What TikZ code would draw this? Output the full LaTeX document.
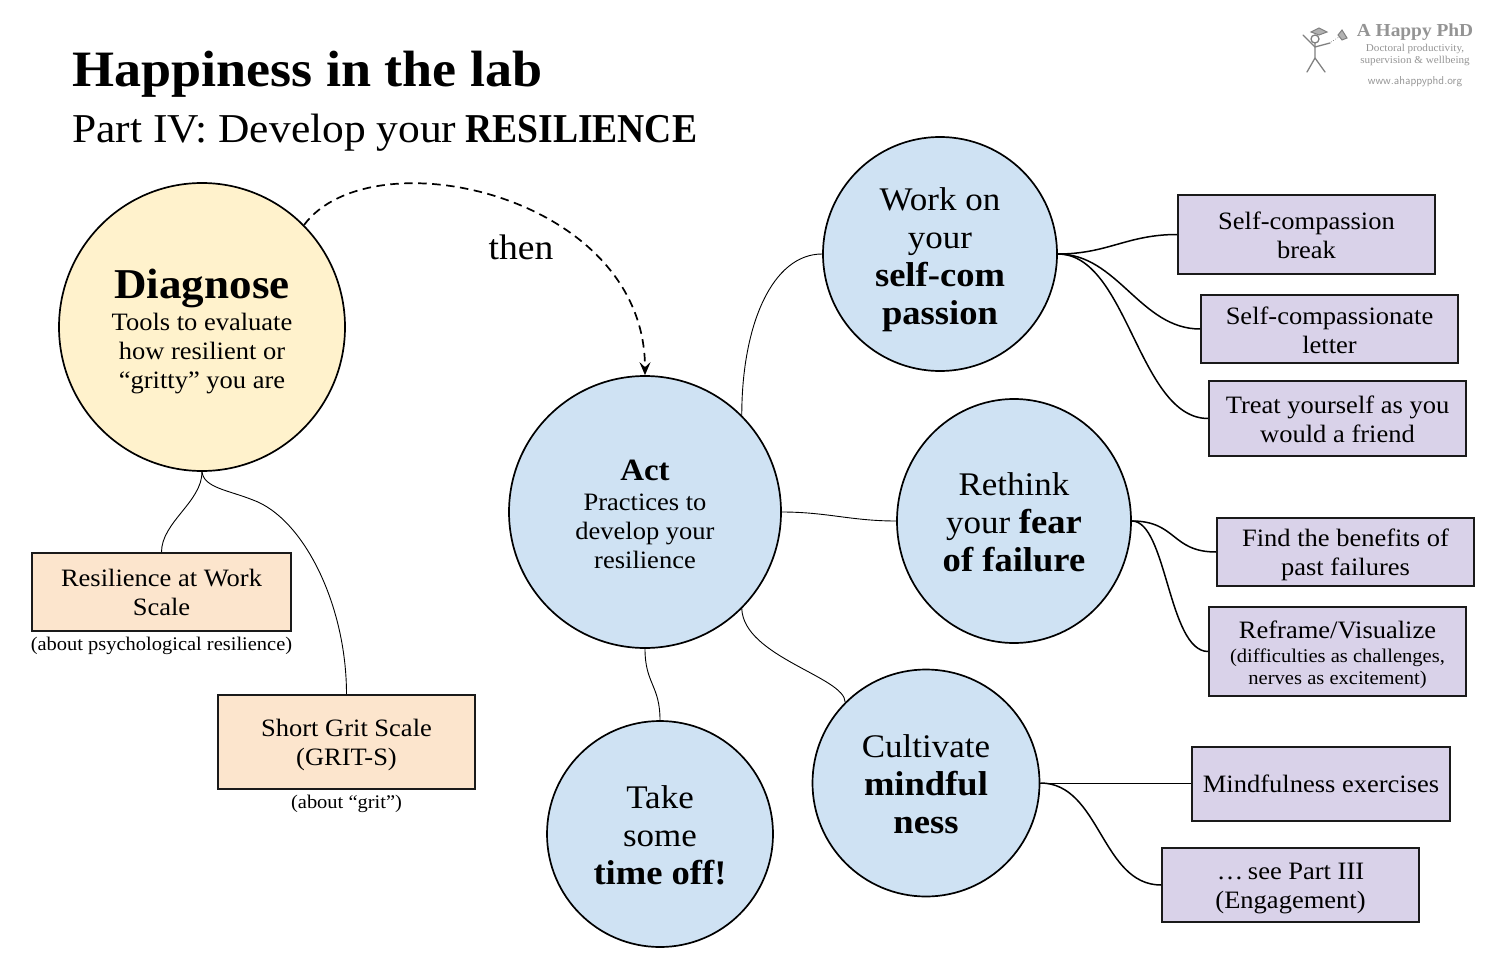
\documentclass[tikz,border=0pt]{standalone}
\usepackage{fontspec}
\setmainfont[FakeStretch=1.06]{Liberation Serif}
\usetikzlibrary{arrows.meta,shapes.geometric}
\definecolor{cyel}{HTML}{FFF2CC}
\definecolor{cblu}{HTML}{CFE2F3}
\definecolor{cora}{HTML}{FCE5CD}
\definecolor{cpur}{HTML}{D9D2E9}
\definecolor{ink}{HTML}{1A1A1A}
\tikzset{
 ball/.style={ellipse,draw=black,line width=1.7pt,inner sep=0pt},
 yball/.style={ball,fill=cyel,font=\fontsize{25}{29}\selectfont},
 aball/.style={ball,fill=cblu,font=\fontsize{25}{29}\selectfont},
 bball/.style={ball,fill=cblu,font=\fontsize{33}{38}\selectfont},
 tbox/.style={rectangle,draw=ink,line width=1.7pt,inner sep=0pt,font=\fontsize{25}{29}\selectfont},
 obox/.style={tbox,fill=cora},
 pbox/.style={tbox,fill=cpur},
 link/.style={draw=black,line width=0.9pt},
 heavy link/.style={draw=black,line width=1.5pt},
 note/.style={inner sep=0pt,font=\fontsize{19.3}{24}\selectfont},
 logoline/.style={draw=black!50,line width=1.3pt,line cap=round},
 logotext/.style={inner sep=0pt,text=black!42},
}
\newcommand{\tx}[2]{\raisebox{#1pt}[0pt][0pt]{\begin{tabular}[c]{@{}c@{}}#2\end{tabular}}}
\newcommand{\bb}[1]{{\fontsize{34.5}{38}\selectfont\bfseries #1}}
\newcommand{\bx}[6]{\node[#1,minimum width=#5-#3,minimum height=#6-#4] (#2) at ({(#3+#5)/2},{(#4+#6)/2})}
\begin{document}
\begin{tikzpicture}[x=1pt,y=-1pt]
\useasboundingbox (0,0) rectangle (1501,960);
\node[anchor=base west,inner sep=0pt,font=\fontsize{51}{51}\selectfont\bfseries] (title) at (72,87) {Happiness in the lab};
\node[anchor=base west,inner sep=0pt,font=\fontsize{41}{41}\selectfont] (sub) at (72,143) {Part IV: Develop your\kern-2pt\ \scalebox{0.865}[1]{\textbf{RESILIENCE}}};

\node[yball,minimum width=286pt,minimum height=288pt] (diag) at (202,327) {\tx{-12}{{\fontsize{42.5}{44}\selectfont\textbf{Diagnose}}\\[3pt]Tools to evaluate\\how resilient or\\“gritty” you are}};
\node[aball,minimum width=272pt,minimum height=272pt] (act) at (645,512) {\tx{-13}{{\fontsize{31}{36}\selectfont\textbf{Act}}\\[1pt]Practices to\\develop your\\resilience}};
\node[bball,minimum width=234pt,minimum height=234pt] (work) at (940,254) {\tx{-12}{Work on\\your\\\bb{self-com}\\\bb{passion}}};
\node[bball,minimum width=234pt,minimum height=244pt] (rethink) at (1014,521) {\tx{-11}{Rethink\\your \bb{fear}\\\bb{of failure}}};
\node[bball,minimum width=227pt,minimum height=227pt] (mind) at (926,783) {\tx{-11}{Cultivate\\\bb{mindful}\\\bb{ness}}};
\node[bball,minimum width=226pt,minimum height=226pt] (off) at (660,834) {\tx{-11}{Take\\some\\\bb{time off!}}};

\bx{obox}{rw}{32}{553}{291}{631} {\tx{-9}{Resilience at Work\\Scale}};
\bx{obox}{gs}{218}{695}{475}{789} {\tx{-9}{Short Grit Scale\\(GRIT-S)}};
\bx{pbox}{sb}{1178}{195}{1435}{274} {\tx{-10}{Self-compassion\\break}};
\bx{pbox}{sl}{1201}{295}{1458}{363} {\tx{-10}{Self-compassionate\\letter}};
\bx{pbox}{tf}{1209}{381}{1466}{456} {\tx{-10}{Treat yourself as you\\would a friend}};
\bx{pbox}{fb}{1217}{518}{1474}{586} {\tx{-9}{Find the benefits of\\past failures}};
\bx{pbox}{rv}{1209}{607}{1466}{696} {\tx{-10.5}{Reframe/Visualize\\[-5pt]\fontsize{19.4}{22}\selectfont(difficulties as challenges,\\[-7pt]\fontsize{19.4}{22}\selectfont nerves as excitement)}};
\bx{pbox}{me}{1192}{747}{1450}{821} {\tx{-9}{Mindfulness exercises}};
\bx{pbox}{pt}{1162}{848}{1419}{922} {\tx{-9}{\dots\kern-2pt\ see Part III\\(Engagement)}};

\node[note] (n1) at (161.5,646) {(about psychological resilience)};
\node[note] (n2) at (346.5,804) {(about “grit”)};
\node[inner sep=0pt,font=\fontsize{35.5}{36}\selectfont] (then) at (521,247) {then};

\coordinate (gsbend) at (253,500);
\draw[link] (diag.south) .. controls +(0,30) and +(0,-30) .. (rw.north);
\draw[link] (diag.south) .. controls +(2,16) and +(-25,-10) .. (gsbend) .. controls +(50,18) and +(0,-90) .. (gs.north);
\draw[link] (act.45) .. controls +(0,-90) and +(-50,0) .. (work.west);
\draw[link] (act.east) .. controls +(45,0) and +(-45,0) .. (rethink.west);
\draw[link] (act.-45) .. controls +(2,48) and +(0,-25) .. (mind.135);
\draw[link] (act.south) .. controls +(0,35) and +(0,-35) .. (off.north);
\draw[line width=1.7pt,dash pattern=on 8.5pt off 5.5pt,-{Stealth[length=13pt,width=11pt,inset=5pt]}] (diag.45) .. controls +(67,-90) and +(0,-181) .. (act.north);

\draw[heavy link] (work.east) .. controls +(50,0) and +(-50,0) .. (sb.west);
\draw[heavy link] (work.east) .. controls +(60,0) and +(-60,0) .. (sl.west);
\draw[heavy link] (work.east) .. controls +(70,0) and +(-70,0) .. (tf.west);
\draw[heavy link] (rethink.east) .. controls +(45,0) and +(-45,0) .. (fb.west);
\draw[heavy link] (rethink.east) .. controls +(35,0) and +(-40,0) .. (rv.west);
\draw[link] (mind.east) -- (mind.east -| me.west);
\draw[heavy link] (mind.east) .. controls +(60,0) and +(-60,0) .. (pt.west);

% logo
\draw[logoline] (1315,39) circle (4);
\draw[logoline] (1315,43) -- (1315,58) -- (1307,72);
\draw[logoline] (1315,58) -- (1325,72);
\draw[logoline] (1303,35) -- (1315,47) -- (1330,43);
\draw[logoline,line width=1pt,fill=black!30] (1311,32) -- (1319,28) -- (1327,32) -- (1319,35) -- cycle;
\draw[logoline,line width=1pt,fill=black!30] (1338,35) -- (1342,30) -- (1347,38) -- (1342,40) -- cycle;
\draw[logoline,line width=0.6pt,dotted] (1331,42) -- (1339,37);
\node[logotext,font=\fontsize{18.3}{19}\selectfont\bfseries] (lg1) at (1415,32) {A Happy PhD};
\node[logotext,align=center,font=\fontsize{10.5}{12.5}\selectfont] (lg2) at (1415,55) {Doctoral productivity,\\supervision \& wellbeing};
\node[logotext,font=\sffamily\fontsize{11.5}{12}\selectfont] (lg3) at (1415,82) {www.ahappyphd.org};
\end{tikzpicture}
\end{document}
